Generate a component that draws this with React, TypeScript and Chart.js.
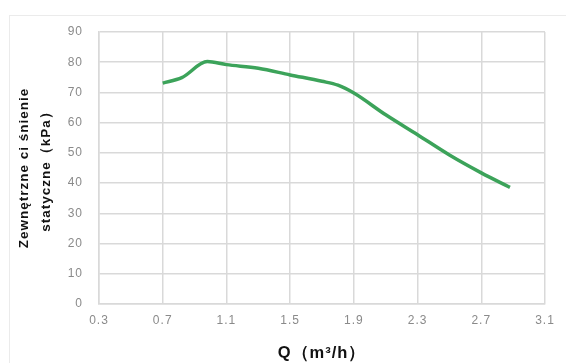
import React, { useEffect, useRef } from "react";
import { Chart, registerables } from "chart.js";

Chart.register(...registerables);

const flowQ = [0.7, 0.82, 0.98, 1.1, 1.3, 1.5, 1.7, 1.8, 1.9, 2.1, 2.3, 2.5, 2.7, 2.88];
const pressure = [73.1, 74.9, 80.2, 79.2, 78.0, 75.8, 73.7, 72.4, 69.8, 62.6, 56.0, 49.3, 43.4, 38.6];
const xTicks = [0.3, 0.7, 1.1, 1.5, 1.9, 2.3, 2.7, 3.1];
const yTicks = [0, 10, 20, 30, 40, 50, 60, 70, 80, 90];
const xTitle = "Q（m³/h）";
const yTitle = ["Zewnętrzne ci śnienie", "statyczne（kPa）"];

const spacingPlugin = {
  id: "letterSpacing",
  beforeDraw(chart: any) {
    try {
      (chart.ctx as any).letterSpacing = "1px";
    } catch (e) {}
  },
};

export default function App() {
  const ref = useRef<HTMLCanvasElement | null>(null);

  useEffect(() => {
    if (!ref.current) return;
    const tickFont = { family: "'Liberation Sans', Arial, sans-serif", size: 12 };
    const chart = new Chart(ref.current, {
      type: "line",
      data: {
        datasets: [
          {
            data: flowQ.map((q, i) => ({ x: q, y: pressure[i] })),
            borderColor: "#3ca35a",
            borderWidth: 3.5,
            pointRadius: 0,
            tension: 0.35,
            cubicInterpolationMode: "monotone",
            fill: false,
          },
        ],
      },
      plugins: [spacingPlugin],
      options: {
        responsive: false,
        animation: false,
        layout: { padding: { left: 0, right: 21, top: 32, bottom: 0 } },
        plugins: { legend: { display: false }, tooltip: { enabled: false } },
        scales: {
          x: {
            type: "linear",
            min: xTicks[0],
            max: xTicks[xTicks.length - 1],
            afterBuildTicks: (s: any) => {
              s.ticks = xTicks.map((v) => ({ value: v }));
            },
            afterFit: (s: any) => {
              s.height = 59;
            },
            grid: { color: "#d9d9d9", lineWidth: 1.5, drawTicks: false },
            border: { color: "#d9d9d9", width: 1.5 },
            ticks: {
              padding: 9,
              color: "#8a8a8a",
              font: tickFont,
              maxRotation: 0,
              callback: (v: any) => Number(v).toFixed(1),
            },
            title: {
              display: true,
              text: xTitle,
              color: "#111",
              font: { family: "'Liberation Sans', Arial, sans-serif", size: 16.5, weight: "bold" },
              padding: { top: 0, bottom: 0 },
            },
          },
          y: {
            type: "linear",
            min: yTicks[0],
            max: yTicks[yTicks.length - 1],
            afterBuildTicks: (s: any) => {
              s.ticks = yTicks.map((v) => ({ value: v }));
            },
            afterFit: (s: any) => {
              s.width = 99;
            },
            grid: { color: "#d9d9d9", lineWidth: 1.5, drawTicks: false },
            border: { color: "#d9d9d9", width: 1.5 },
            ticks: { padding: 16, color: "#8a8a8a", font: tickFont },
            title: {
              display: true,
              text: yTitle,
              color: "#111",
              font: {
                family: "'Liberation Sans', Arial, sans-serif",
                size: 13.5,
                weight: "bold",
                lineHeight: "22px",
              },
              padding: { top: 13.5, bottom: 0 },
            },
          },
        },
      },
    } as any);
    return () => chart.destroy();
  }, []);

  return (
    <div style={{ position: "fixed", left: 0, top: 0, width: 566, height: 363, background: "#fff", overflow: "hidden" }}>
      <div
        style={{
          position: "absolute",
          left: 9,
          top: 15,
          width: 600,
          height: 400,
          border: "1px solid #ebebeb",
          boxSizing: "border-box",
        }}
      />
      <canvas ref={ref} width={566} height={363} style={{ position: "absolute", left: 0, top: 0 }} />
    </div>
  );
}
